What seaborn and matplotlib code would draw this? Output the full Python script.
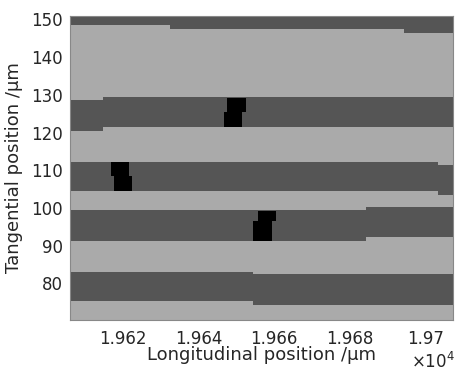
import numpy as np
import pandas as pd
import matplotlib
matplotlib.use('Agg')
import matplotlib.pyplot as plt
from matplotlib.colors import ListedColormap
import seaborn as sns

# visible window (um)
x_lim = [19605.9, 19707.5]
y_lim = [70.26, 151.0]

# dark stripes: x range and y range of each piece
dark_x0 = [19600.0, 19632.4, 19694.3, 19600.0, 19614.6, 19600.0, 19703.4, 19600.0, 19684.4, 19600.0, 19654.5]
dark_x1 = [19632.4, 19694.3, 19710.0, 19614.6, 19710.0, 19703.4, 19710.0, 19684.4, 19710.0, 19654.5, 19710.0]
dark_y0 = [148.6, 147.5, 146.6, 120.6, 121.4, 104.5, 103.4, 91.3, 92.2, 75.3, 74.2]
dark_y1 = [152.0, 152.0, 152.0, 128.6, 129.5, 112.3, 111.4, 99.5, 100.3, 83.1, 82.4]

# black blocks
black_x0 = [19647.5, 19646.6, 19616.7, 19617.6, 19655.6, 19654.5]
black_x1 = [19652.5, 19651.5, 19621.5, 19622.5, 19660.5, 19659.4]
black_y0 = [125.4, 121.4, 108.5, 104.5, 96.4, 91.3]
black_y1 = [129.2, 125.4, 112.3, 108.5, 99.3, 96.4]

x_ticks = [19620, 19640, 19660, 19680, 19700]
x_tick_labels = ['1.962', '1.964', '1.966', '1.968', '1.97']
y_ticks = [80, 90, 100, 110, 120, 130, 140, 150]

# build the raster (0 = black, 1 = dark, 2 = light)
res = 0.25
nx = int(round((x_lim[1] - x_lim[0]) / res))
ny = int(round((y_lim[1] - y_lim[0]) / res))
xc = x_lim[0] + (np.arange(nx) + 0.5) * res
yc = y_lim[1] - (np.arange(ny) + 0.5) * res  # top row first
X, Y = np.meshgrid(xc, yc)
grid = np.full((ny, nx), 2)
for a, b, c, d in zip(dark_x0, dark_x1, dark_y0, dark_y1):
    grid[(X >= a) & (X < b) & (Y >= c) & (Y < d)] = 1
for a, b, c, d in zip(black_x0, black_x1, black_y0, black_y1):
    grid[(X >= a) & (X < b) & (Y >= c) & (Y < d)] = 0
df = pd.DataFrame(grid)

sns.set_style('white')
plt.rcParams['font.family'] = ['DejaVu Sans']

fig = plt.figure(figsize=(4.56, 3.71), dpi=100)
ax = fig.add_axes([0.1535, 0.1375, 0.8406, 0.8202])
cmap = ListedColormap(['#000000', '#555555', '#aaaaaa'])
sns.heatmap(df, cmap=cmap, vmin=-0.5, vmax=2.5, cbar=False, ax=ax,
            xticklabels=False, yticklabels=False, rasterized=True)

ax.set_xticks([(t - x_lim[0]) / res for t in x_ticks])
ax.set_xticklabels(x_tick_labels)
ax.set_yticks([(y_lim[1] - t) / res for t in y_ticks])
ax.set_yticklabels([str(t) for t in y_ticks], rotation=0)
ax.tick_params(direction='in', length=4, width=0.6, color='#444444',
               labelsize=12, labelcolor='#262626', top=True, right=True,
               bottom=True, left=True, pad=5)
ax.tick_params(axis='x', pad=7)
for s in ax.spines.values():
    s.set_visible(True)
    s.set_color('#888888')
    s.set_linewidth(0.8)

ax.set_xlabel('Longitudinal position /\u00b5m', fontsize=13, color='#262626', labelpad=-1)
ax.set_ylabel('Tangential position /\u00b5m', fontsize=13, color='#262626', labelpad=6)
ax.text(1.003, -0.105, r'$\times\mathdefault{10^{4}}$', transform=ax.transAxes,
        ha='right', va='top', fontsize=12, color='#262626')

fig.savefig('out.png', dpi=100)
